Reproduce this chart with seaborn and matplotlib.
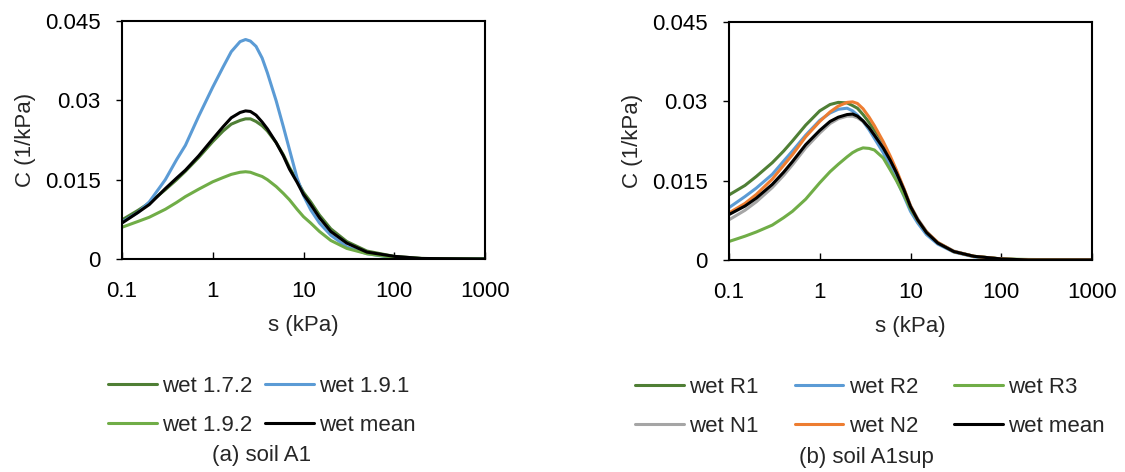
import numpy as np
import pandas as pd
import matplotlib
matplotlib.use("Agg")
import matplotlib.pyplot as plt
from matplotlib.lines import Line2D
import seaborn as sns

# ---------------- data ----------------
s_kpa = [0.1, 0.15, 0.2, 0.3, 0.4, 0.5, 0.7, 1, 1.3, 1.6, 2, 2.3, 2.6, 3, 3.5, 4, 5, 6, 7,
         8.5, 10, 12, 15, 20, 30, 50, 100, 200, 1000]

# panel (a) soil A1
a_labels = ["wet 1.7.2", "wet 1.9.1", "wet 1.9.2", "wet mean"]
a_wet_172 = [0.0074, 0.0092, 0.0106, 0.0131, 0.0150, 0.0166, 0.0192, 0.0222, 0.0242, 0.0255,
             0.0262, 0.0265, 0.0265, 0.0260, 0.0252, 0.0242, 0.0220, 0.0197, 0.0173, 0.0148,
             0.0126, 0.0108, 0.0083, 0.0057, 0.0033, 0.0015, 0.0005, 0.0001, 0.0]
a_wet_191 = [0.0070, 0.0088, 0.0108, 0.0150, 0.0188, 0.0215, 0.0270, 0.0325, 0.0363, 0.0392,
             0.0411, 0.0415, 0.0412, 0.0402, 0.0380, 0.0352, 0.0299, 0.0250, 0.0207, 0.0153,
             0.0120, 0.0093, 0.0068, 0.0045, 0.0023, 0.0010, 0.0002, 0.0, 0.0]
a_wet_192 = [0.0060, 0.0071, 0.0079, 0.0094, 0.0107, 0.0118, 0.0132, 0.0146, 0.0154, 0.0160,
             0.0164, 0.0165, 0.0164, 0.0160, 0.0156, 0.0150, 0.0137, 0.0124, 0.0112, 0.0094,
             0.0080, 0.0068, 0.0052, 0.0035, 0.0020, 0.0010, 0.0003, 0.0001, 0.0]
a_wet_mean = [0.0068, 0.0088, 0.0103, 0.0133, 0.0153, 0.0168, 0.0195, 0.0227, 0.0250, 0.0267,
              0.0277, 0.0280, 0.0279, 0.0272, 0.0259, 0.0246, 0.0220, 0.0195, 0.0170, 0.0145,
              0.0122, 0.0103, 0.0078, 0.0052, 0.0030, 0.0013, 0.0005, 0.0001, 0.0]

# panel (b) soil A1sup
b_labels = ["wet R1", "wet R2", "wet R3", "wet N1", "wet N2", "wet mean"]
b_wet_r1 = [0.0123, 0.0141, 0.0158, 0.0184, 0.0206, 0.0225, 0.0255, 0.0282, 0.0294, 0.0298,
            0.0297, 0.0292, 0.0287, 0.0275, 0.0260, 0.0245, 0.0218, 0.0190, 0.0165, 0.0130,
            0.0100, 0.0075, 0.0052, 0.0032, 0.0016, 0.0007, 0.0002, 0.0, 0.0]
b_wet_r2 = [0.0099, 0.0120, 0.0136, 0.0162, 0.0187, 0.0206, 0.0236, 0.0264, 0.0278, 0.0285,
            0.0287, 0.0282, 0.0274, 0.0262, 0.0246, 0.0230, 0.0203, 0.0176, 0.0152, 0.0120,
            0.0092, 0.0070, 0.0048, 0.0030, 0.0015, 0.0006, 0.0001, 0.0, 0.0]
b_wet_r3 = [0.0035, 0.0045, 0.0053, 0.0066, 0.0080, 0.0092, 0.0115, 0.0146, 0.0167, 0.0181,
            0.0195, 0.0203, 0.0208, 0.0212, 0.0211, 0.0208, 0.0193, 0.0170, 0.0150, 0.0122,
            0.0097, 0.0075, 0.0053, 0.0033, 0.0016, 0.0007, 0.0002, 0.0001, 0.0]
b_wet_n1 = [0.0076, 0.0094, 0.0110, 0.0137, 0.0160, 0.0180, 0.0212, 0.0240, 0.0258, 0.0267,
            0.0272, 0.0272, 0.0269, 0.0262, 0.0250, 0.0237, 0.0214, 0.0190, 0.0167, 0.0134,
            0.0103, 0.0078, 0.0054, 0.0033, 0.0017, 0.0007, 0.0002, 0.0, 0.0]
b_wet_n2 = [0.0089, 0.0107, 0.0124, 0.0153, 0.0179, 0.0199, 0.0233, 0.0262, 0.0280, 0.0291,
            0.0298, 0.0299, 0.0296, 0.0286, 0.0270, 0.0254, 0.0224, 0.0196, 0.0170, 0.0134,
            0.0102, 0.0076, 0.0053, 0.0033, 0.0016, 0.0007, 0.0002, 0.0, 0.0]
b_wet_mean = [0.0086, 0.0102, 0.0117, 0.0143, 0.0166, 0.0186, 0.0218, 0.0245, 0.0262, 0.0270,
              0.0275, 0.0276, 0.0272, 0.0263, 0.0250, 0.0236, 0.0212, 0.0188, 0.0165, 0.0132,
              0.0101, 0.0076, 0.0052, 0.0032, 0.0016, 0.0007, 0.0002, 0.0, 0.0]

x_ticks = [0.1, 1, 10, 100, 1000]
x_tick_labels = ["0.1", "1", "10", "100", "1000"]
y_ticks = [0, 0.015, 0.03, 0.045]
y_tick_labels = ["0", "0.015", "0.03", "0.045"]

# ---------------- style ----------------
sns.set_style("white")
plt.rcParams["font.family"] = ["Liberation Sans", "DejaVu Sans"]
FS = 16

DKGREEN = "#4f7f35"
BLUE = "#5b9bd5"
LTGREEN = "#70ad47"
GREY = "#a5a5a5"
ORANGE = "#ed7d31"
BLACK = "#000000"

a_colors = [DKGREEN, BLUE, LTGREEN, BLACK]
b_colors = [DKGREEN, BLUE, LTGREEN, GREY, ORANGE, BLACK]

def long_df(labels, series):
    rows = []
    for lab, vals in zip(labels, series):
        rows.append(pd.DataFrame({"s": s_kpa, "C": vals, "series": lab}))
    return pd.concat(rows, ignore_index=True)

df_a = long_df(a_labels, [a_wet_172, a_wet_191, a_wet_192, a_wet_mean])
df_b = long_df(b_labels, [b_wet_r1, b_wet_r2, b_wet_r3, b_wet_n1, b_wet_n2, b_wet_mean])

W, H = 1125, 472
fig = plt.figure(figsize=(W / 100, H / 100), dpi=100)
ax_a = fig.add_axes([122 / W, 1 - 259 / H, 363 / W, 238 / H])
ax_b = fig.add_axes([729 / W, 1 - 260 / H, 363 / W, 238 / H])

LW = 2.2
for ax, df, labels, colors in [(ax_a, df_a, a_labels, a_colors), (ax_b, df_b, b_labels, b_colors)]:
    sns.lineplot(data=df, x="s", y="C", hue="series", hue_order=labels,
                 palette=dict(zip(labels, colors)), sort=False, estimator=None,
                 linewidth=LW, legend=False, ax=ax)
    ax.set_xscale("log")
    ax.set_xlim(0.1, 1000)
    ax.set_ylim(0, 0.045)
    ax.set_xticks(x_ticks)
    ax.set_xticklabels(x_tick_labels)
    ax.xaxis.set_minor_locator(matplotlib.ticker.NullLocator())
    ax.set_yticks(y_ticks)
    ax.set_yticklabels(y_tick_labels)
    ax.tick_params(axis="x", direction="in", length=5, width=1, pad=16,
                   labelsize=FS, colors="black", bottom=True)
    ax.tick_params(axis="y", direction="out", length=4.5, width=1, pad=11,
                   labelsize=FS, colors="black", left=True)
    for sp in ax.spines.values():
        sp.set_visible(True)
        sp.set_color("black")
        sp.set_linewidth(1.5)
    ax.set_xlabel("s (kPa)", fontsize=FS, labelpad=9)
    ax.set_ylabel("C (1/kPa)", fontsize=FS, labelpad=6)
    ax.grid(False)

def make_legend(labels, colors, ncol, cx, cy, colspace):
    nrow = int(np.ceil(len(labels) / ncol))
    # row-major reading order -> matplotlib's column-major fill
    order = [r * ncol + c for c in range(ncol) for r in range(nrow)]
    handles = [Line2D([0], [0], color=colors[i], lw=LW) for i in order]
    labs = [labels[i] for i in order]
    fig.legend(handles, labs, loc="center", bbox_to_anchor=(cx / W, 1 - cy / H),
               ncol=ncol, frameon=False, fontsize=FS, handlelength=2.2,
               handletextpad=0.25, columnspacing=colspace, labelspacing=0.8,
               borderpad=0, borderaxespad=0)

make_legend(a_labels, a_colors, 2, 262, 406, 0.55)
make_legend(b_labels, b_colors, 3, 870, 407, 1.6)

fig.text(262 / W, 1 - 455 / H, "(a) soil A1", ha="center", va="center", fontsize=FS)
fig.text(866 / W, 1 - 458 / H, "(b) soil A1sup", ha="center", va="center", fontsize=FS)

fig.savefig("out.png", dpi=100, facecolor="white")
